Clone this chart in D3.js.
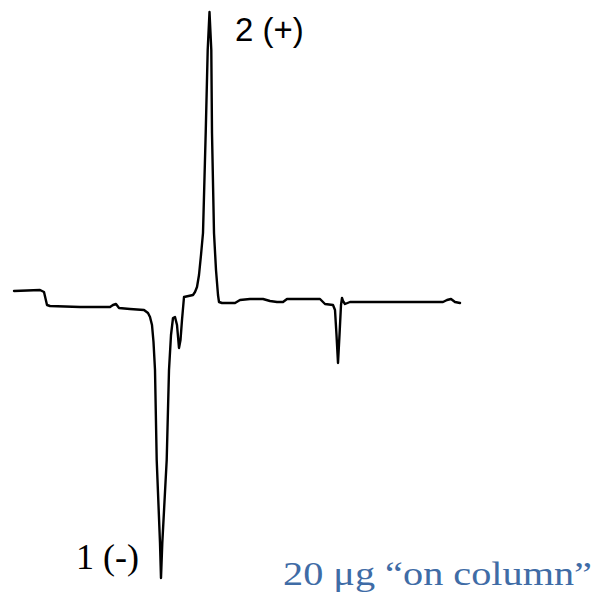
<!DOCTYPE html>
<html>
<head>
<meta charset="utf-8">
<script src="https://cdn.jsdelivr.net/npm/d3@7"></script>
<style>
  html, body { margin: 0; padding: 0; background: #fff; }
</style>
</head>
<body>
<svg id="chart" width="598" height="594"></svg>
<script>
// trace (time in arbitrary units, detector signal relative to baseline)
const time = [0, 26, 30, 33, 36, 66, 96, 99, 102, 105, 116, 130, 134, 136, 138, 139.5, 141, 142.7, 146, 147,
  148.3, 152.7, 155, 157, 159, 161, 163, 165, 166.5, 168, 170, 179, 181, 183, 185, 187, 189, 191.7, 193.7,
  195.5, 197.3, 198, 200, 202, 204, 205, 208, 221, 226, 236, 249, 256, 263, 269, 273, 306, 311, 319, 321,
  322.5, 324, 325.5, 327, 328, 329, 331, 336, 429, 433, 437, 441, 446];
const signal = [9, 10, 8, -5, -6, -7, -7, -5, -4, -8, -9, -10, -13, -17, -25, -42, -70, -160, -243, -278,
  -243, -160, -70, -35, -18, -17, -25, -48, -40, -20, 3, 5, 8, 13, 25, 45, 67, 167, 250,
  288, 250, 167, 67, 30, 5, -2, -3, -3, 0, 1, 1, -1, -2, -2, 1, 1, -4, -5, -10,
  -35, -63, -35, -5, 2, -1, -4, -2, -2, 0, 1, -2, -3];

const peakLabels = ["2 (+)", "1 (-)"];
const noteLabel = "20 μg “on column”";

const svg = d3.select("#chart");

const x = d3.scaleLinear().domain([0, 446]).range([14, 460]);
const y = d3.scaleLinear().domain([-278, 288]).range([578, 12]);

const pts = time.map((t, i) => [t, signal[i]]);

const line = d3.line().x(d => x(d[0])).y(d => y(d[1])).curve(d3.curveLinear);

svg.append("path")
  .datum(pts)
  .attr("fill", "none")
  .attr("stroke", "#000")
  .attr("stroke-width", 2.4)
  .attr("stroke-linejoin", "round")
  .attr("stroke-linecap", "round")
  .attr("d", line);

// peak labels
svg.append("text")
  .attr("x", 235).attr("y", 41)
  .attr("font-family", "Liberation Sans, Arial, sans-serif")
  .attr("font-size", 33)
  .attr("fill", "#000")
  .text(peakLabels[0]);

svg.append("text")
  .attr("x", 76).attr("y", 569)
  .attr("font-family", "Liberation Serif, Times New Roman, serif")
  .attr("font-size", 36)
  .attr("fill", "#000")
  .text(peakLabels[1]);

svg.append("text")
  .attr("x", 283).attr("y", 585)
  .attr("font-family", "Liberation Serif, Times New Roman, serif")
  .attr("font-size", 34)
  .attr("fill", "#3f6ca6")
  .attr("textLength", 309)
  .attr("lengthAdjust", "spacingAndGlyphs")
  .text(noteLabel);
</script>
</body>
</html>
